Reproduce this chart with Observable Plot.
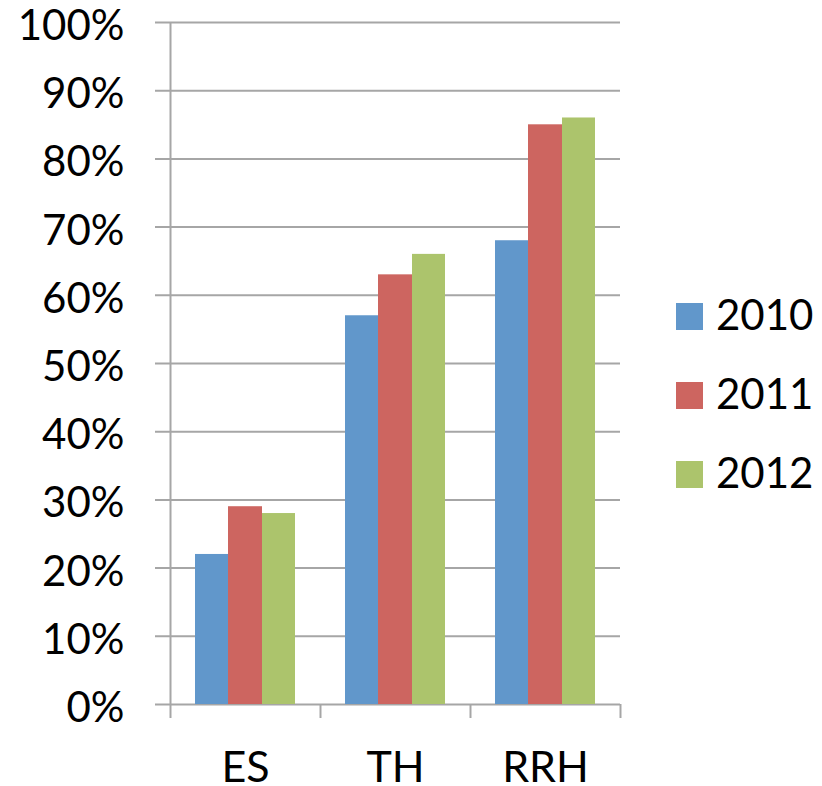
<!DOCTYPE html>
<html>
<head>
<meta charset="utf-8">
<script src="https://cdn.jsdelivr.net/npm/d3@7"></script>
<script src="https://cdn.jsdelivr.net/npm/@observablehq/plot@0.6"></script>
<style>
  html, body { margin: 0; padding: 0; background: #fff; }
  #wrap { position: relative; width: 822px; height: 786px; font-family: Lato, "Open Sans", sans-serif; }
  #legend { position: absolute; left: 676px; top: 303px; }
  .item { position: absolute; left: 0; height: 27px; white-space: nowrap; }
  .sw { position: absolute; left: 0; top: 0; width: 27px; height: 27px; }
  .lab { position: absolute; left: 40px; top: -10px; font-size: 42px; line-height: 42px; color: #000; }
</style>
</head>
<body>
<div id="wrap"></div>
<script>
const categories = ["ES", "TH", "RRH"];
const years = ["2010", "2011", "2012"];
const values2010 = [22, 57, 68];
const values2011 = [29, 63, 85];
const values2012 = [28, 66, 86];
const colors = ["#6197CB", "#CD6560", "#ACC46C"];
const yTicks = [0, 10, 20, 30, 40, 50, 60, 70, 80, 90, 100];

const series = [values2010, values2011, values2012];
const data = [];
years.forEach((yr, j) => categories.forEach((c, i) => data.push({category: c, year: yr, value: series[j][i]})));

// insets placing the three bars side by side inside each 150px category band
const insets = [[25, 92], [58, 58], [92, 25]];
const gridColor = "#a6a6a6";

const chart = Plot.plot({
  width: 822,
  height: 786,
  marginLeft: 170,
  marginRight: 202,
  marginTop: 22,
  marginBottom: 82,
  style: {fontFamily: "Lato, 'Open Sans', sans-serif", background: "#fff", color: "#000"},
  x: {domain: categories, padding: 0, label: null},
  y: {domain: [0, 100], label: null},
  color: {domain: years, range: colors},
  marks: [
    Plot.ruleY(yTicks, {stroke: gridColor, strokeWidth: 2, insetLeft: -15}),
    Plot.ruleX([categories[0]], {dx: -75, y1: 0, y2: 100, stroke: gridColor, strokeWidth: 2}),
    Plot.ruleX(categories, {dx: -75, y1: 0, y2: 0, insetBottom: -14, stroke: gridColor, strokeWidth: 2}),
    Plot.ruleX([categories[categories.length - 1]], {dx: 75, y1: 0, y2: 0, insetBottom: -14, stroke: gridColor, strokeWidth: 2}),
    ...years.map((yr, j) => Plot.barY(data.filter(d => d.year === yr), {
      x: "category", y: "value", fill: "year",
      insetLeft: insets[j][0], insetRight: insets[j][1]
    })),
    Plot.axisY({ticks: yTicks, tickSize: 0, tickPadding: 46, fontSize: 42, dy: 4, label: null, tickFormat: d => d + "%"}),
    Plot.axisX({tickSize: 0, tickPadding: 47, fontSize: 43, label: null})
  ]
});

const wrap = document.getElementById("wrap");
wrap.appendChild(chart);

const legend = document.createElement("div");
legend.id = "legend";
years.forEach((yr, j) => {
  const item = document.createElement("div");
  item.className = "item";
  item.style.top = (j * 79) + "px";
  const sw = document.createElement("div");
  sw.className = "sw";
  sw.style.background = colors[j];
  const lab = document.createElement("div");
  lab.className = "lab";
  lab.textContent = yr;
  item.appendChild(sw);
  item.appendChild(lab);
  legend.appendChild(item);
});
wrap.appendChild(legend);
</script>
</body>
</html>
